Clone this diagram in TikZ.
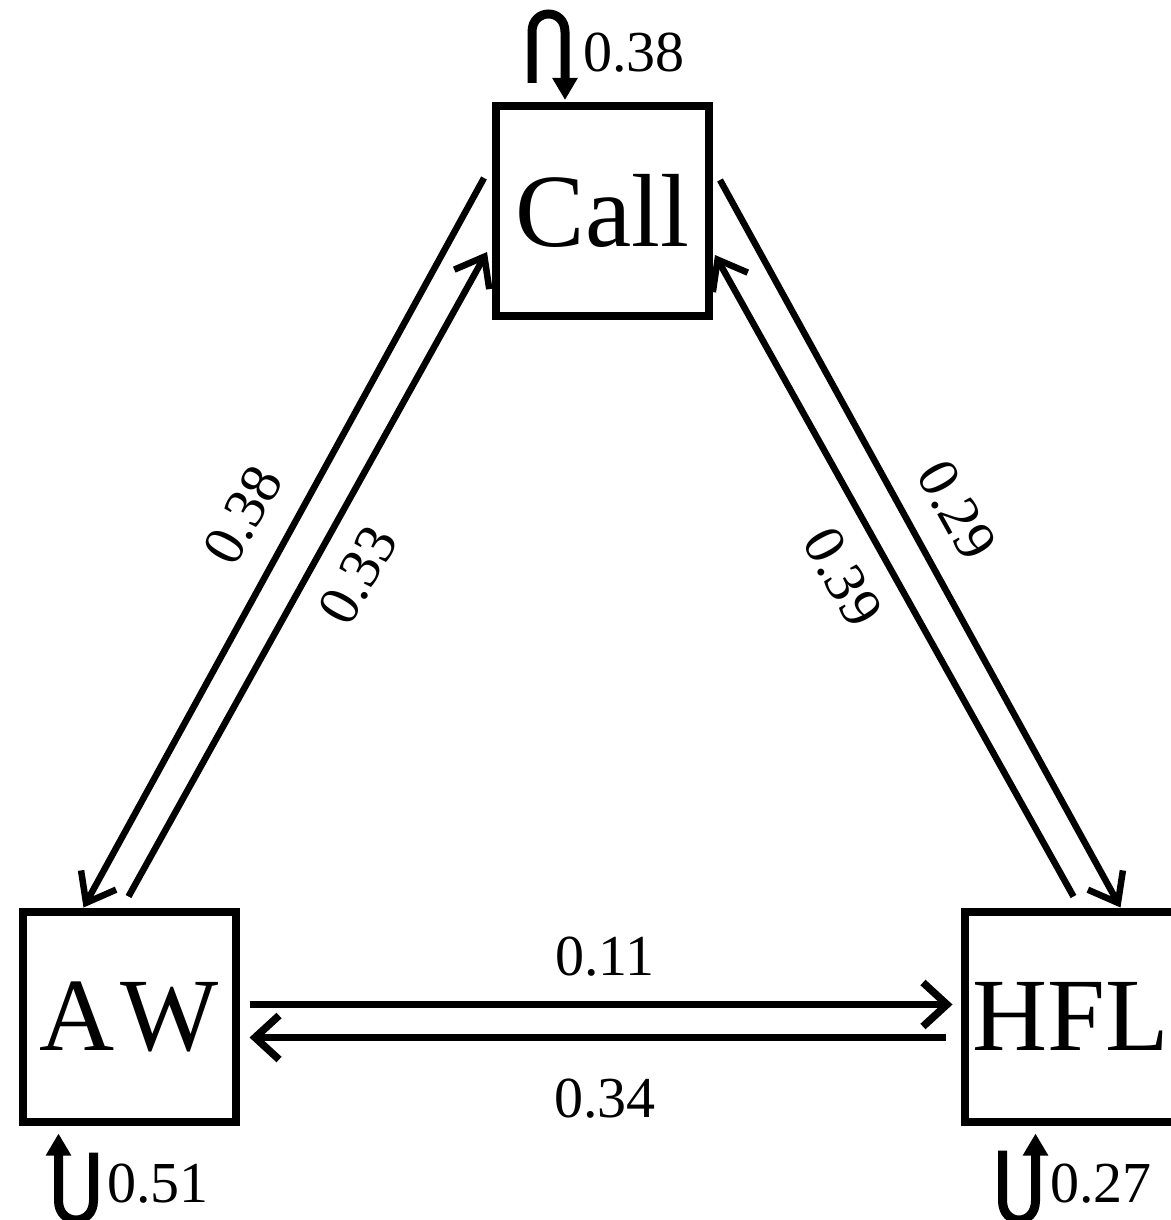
\documentclass[tikz,border=0pt]{standalone}
\usepackage{fontspec}
\setmainfont{Liberation Serif}
\usetikzlibrary{arrows.meta,calc}
\begin{document}
\begin{tikzpicture}[x=1pt,y=-1pt,
  box/.style={draw,line width=8pt,minimum width=213pt,minimum height=210pt,inner sep=0pt,font=\fontsize{104}{110}\selectfont},
  lbl/.style={inner sep=0pt,font=\fontsize{58}{60}\selectfont},
  diag/.style={line width=6.5pt,-{Straight Barb[length=26pt,width=40pt]}},
  horiz/.style={line width=7.5pt,-{Straight Barb[length=24pt,width=44pt]}},
  selfloop/.style={line width=9pt,-{Triangle[length=22pt,width=24pt]}}]
\fill[white] (0,0) rectangle (1170,1220);
\useasboundingbox (0,0) rectangle (1170,1220);
\node[box] (Call) at (602.5,211) {Call};
\node[box] (AW) at (129,1016.5) {A\kern6pt W};
\node[box] (HFL) at (1071,1016.5) {HFL};
% Call <-> AW
\draw[diag] ($(Call.north west)+(-8,76)$) -- ($(AW.north west)+(65,0)$);
\draw[diag] ($(AW.north west)+(110,-11)$) -- ($(Call.north west)+(-5,150)$);
% Call <-> HFL
\draw[diag] ($(Call.north east)+(7,78)$) -- ($(HFL.north west)+(160,0)$);
\draw[diag] ($(HFL.north west)+(113,-11)$) -- ($(Call.north east)+(2,153)$);
% AW <-> HFL
\draw[horiz] ($(AW.north east)+(10,97)$) -- ($(HFL.north west)+(-8,97)$);
\draw[horiz] ($(HFL.north west)+(-15,130)$) -- ($(AW.north east)+(10,130)$);
% self loops
\draw[selfloop] ($(Call.north west)+(40,-19)$) -- ++(0,-51) .. controls ++(0,-24) and ($(Call.north west)+(73,-94)$) .. ($(Call.north west)+(73,-70)$) -- ($(Call.north west)+(73,-2)$);
\draw[selfloop] ($(AW.south west)+(75,27)$) -- ++(0,48) .. controls ++(0,26) and ($(AW.south west)+(40,101)$) .. ($(AW.south west)+(40,75)$) -- ($(AW.south west)+(40,8)$);
\draw[selfloop] ($(HFL.south west)+(42,25)$) -- ++(0,50) .. controls ++(0,26) and ($(HFL.south west)+(75,101)$) .. ($(HFL.south west)+(75,75)$) -- ($(HFL.south west)+(75,8)$);
% labels
\node[lbl,anchor=base west] (lCC) at (583,72) {0.38};
\node[lbl,anchor=base west] (lAA) at (107,1202) {0.51};
\node[lbl,anchor=base west] (lHH) at (1050,1202) {0.27};
\node[lbl,anchor=base] (lAH) at (605,975) {0.11};
\node[lbl,anchor=base] (lHA) at (605,1117) {0.34};
\node[lbl,rotate=61] (lCA) at (243,515) {0.38};
\node[lbl,rotate=61] (lAC) at (358,575) {0.33};
\node[lbl,rotate=-61] (lCH) at (957,510) {0.29};
\node[lbl,rotate=-61] (lHC) at (843,577) {0.39};
\end{tikzpicture}
\end{document}
